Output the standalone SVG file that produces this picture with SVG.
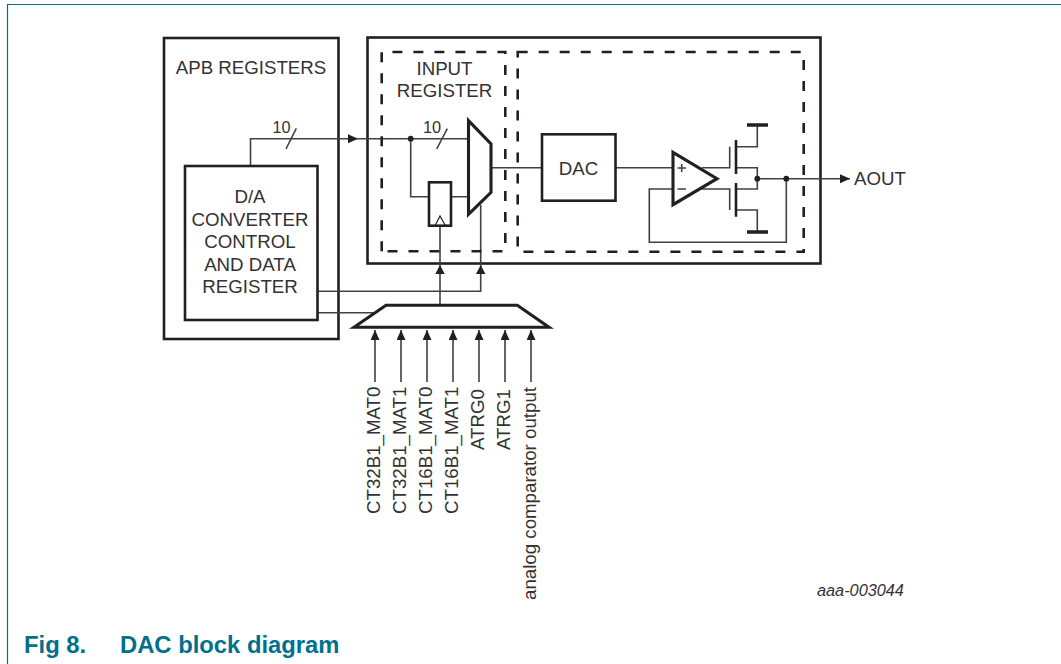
<svg xmlns="http://www.w3.org/2000/svg" width="1061" height="664" viewBox="0 0 1061 664">
<style>
text{font-family:"Liberation Sans",Arial,sans-serif;fill:#333132}
.l{font-size:18.7px}
.m{text-anchor:middle}
.s{font-size:16.300px}
.b{fill:#fff;stroke:#231f20;stroke-width:2.600;stroke-linejoin:miter}
.x{stroke-width:3.100}
.d{fill:none;stroke:#231f20;stroke-width:2.600;stroke-dasharray:10 11}
.w{fill:none;stroke:#414042;stroke-width:1.600}
.t{fill:none;stroke:#231f20;stroke-width:2.600}
.cap{font-size:23.800px;font-weight:bold;fill:#00718c}
.h{fill:#231f20}
</style>
<defs>
<marker id="a" markerUnits="userSpaceOnUse" markerWidth="10" markerHeight="10" refX="10" refY="4.500" orient="auto"><path d="M0 0L10 4.500L0 9Z" fill="#231f20"/></marker>
</defs>
<path id="frame" d="M1061 4.500H7.500V664" fill="none" stroke="#00718c" stroke-width="1.200"/>
<g id="apb"><rect class="b" x="164" y="38" width="174.500" height="301"/><text class="l m" x="251" y="74">APB REGISTERS</text></g>
<g id="main"><rect class="b" x="367.500" y="37.500" width="453" height="226"/></g>
<g id="connectors">
<path class="w" d="M250.500 166V138.700H358" marker-end="url(#a)"/>
<path class="w" d="M358 138.700H468.500M410.700 138.700V196.700H429M451 196.700H468.500M491 167.700H542"/>
<path class="w" d="M286 149L296.300 128.300M436.700 149L447.300 128.700"/>
<path class="w" d="M440 225.700V305.300"/>
<path class="w" d="M480.700 205V291.300H317.500M317.500 312.700H376"/>
<path class="h" d="M435.300 274L440 265L444.700 274ZM476 274L480.700 265L485.400 274Z"/>
<path class="w" d="M375 382V330" marker-end="url(#a)"/>
<path class="w" d="M401 382V330" marker-end="url(#a)"/>
<path class="w" d="M427 382V330" marker-end="url(#a)"/>
<path class="w" d="M453 382V330" marker-end="url(#a)"/>
<path class="w" d="M479 382V330" marker-end="url(#a)"/>
<path class="w" d="M505 382V330" marker-end="url(#a)"/>
<path class="w" d="M531 382V330" marker-end="url(#a)"/>
<path class="w" d="M615.500 167.700H673M757.300 178.700H850" marker-end="url(#a)"/>
<path class="w" d="M702 167.700H729.700V146.700M702 189H729.700V210M736 146.700H757.300V125M736 167.700H757.300V189H736M736 210H757.300V232M786.300 178.700V242.300H649.300V189H673"/>
<circle class="h" cx="410.700" cy="138.700" r="2.900"/>
<circle class="h" cx="757.300" cy="178.700" r="2.900"/>
<circle class="h" cx="786.300" cy="178.700" r="2.900"/>
</g>
<g id="input-register"><path class="d" d="M381.700 251.300V52H505.300V251.300Z"/><text class="l m" x="444.500" y="75">INPUT</text><text class="l m" x="444.500" y="97">REGISTER</text><text class="s m" x="432" y="133">10</text></g>
<g id="output-stage"><path class="d" d="M517.700 52H803.700V251.700H517.700Z"/></g>
<g id="da-control"><rect class="b" x="185" y="166" width="132.500" height="154"/>
<text class="l m" x="250" y="203">D/A</text><text class="l m" x="250" y="226">CONVERTER</text><text class="l m" x="250" y="248">CONTROL</text><text class="l m" x="250" y="271">AND DATA</text><text class="l m" x="250" y="293">REGISTER</text></g>
<text class="s m" x="281.500" y="133">10</text>
<g id="register"><rect class="b" x="429" y="182.300" width="22" height="43.400"/><path d="M435 225.700L440 216L445.500 225.700" fill="none" stroke="#231f20" stroke-width="1.200"/></g>
<g id="mux"><path class="b x" d="M468.500 120.700L491 144V192.300L468.500 214.300Z"/></g>
<g id="dac"><rect class="b" x="542" y="134.300" width="73.500" height="66.400"/><text class="l m" x="578.500" y="175">DAC</text></g>
<g id="amp"><path class="b x" fill-opacity="0" d="M673 152.300L717 178.700L673 204.700Z"/><path class="w" d="M677.500 168H686M681.700 164V172M677.500 189H686"/></g>
<g id="transistors"><path class="t" d="M736 140V174M736 183V216.700"/><path d="M747 125H768M747 232H768" stroke="#231f20" stroke-width="3.600" fill="none"/></g>
<text class="l" x="854" y="184.500">AOUT</text>
<g id="selector"><path class="b x" d="M354 327.300L386 305.300H517.300L549 327.300Z"/></g>
<g id="inputs" class="l">
<text transform="translate(379.500 514) rotate(-90)">CT32B1_MAT0</text>
<text transform="translate(405.500 514) rotate(-90)">CT32B1_MAT1</text>
<text transform="translate(431.500 514) rotate(-90)">CT16B1_MAT0</text>
<text transform="translate(457.500 514) rotate(-90)">CT16B1_MAT1</text>
<text transform="translate(483.500 450) rotate(-90)">ATRG0</text>
<text transform="translate(509.500 450) rotate(-90)">ATRG1</text>
<text transform="translate(535.500 600) rotate(-90)">analog comparator output</text>
</g>
<text class="s" x="817" y="596" font-style="italic">aaa-003044</text>
<text class="cap" x="24" y="653">Fig 8.</text><text class="cap" x="120" y="653">DAC block diagram</text>
</svg>
